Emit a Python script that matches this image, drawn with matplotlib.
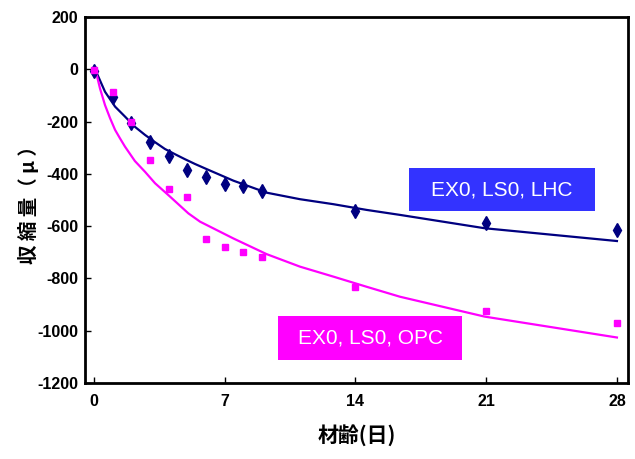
import matplotlib
matplotlib.use('Agg')
import matplotlib.pyplot as plt
from matplotlib.patches import Rectangle

plt.rcParams['axes.unicode_minus'] = False

# measured shrinkage at each age (days)
days = [0, 1, 2, 3, 4, 5, 6, 7, 8, 9, 14, 21, 28]
lhc_y = [-5, -105, -207, -279, -332, -385, -411, -439, -445, -466, -541, -587, -615]
opc_y = [-3, -88, -200, -346, -457, -490, -650, -681, -698, -719, -832, -923, -969]

# fitted curves
lhc_fit_x = [0.09, 0.59, 1.13, 1.66, 2.19, 2.73, 3.27, 3.80, 4.34, 4.87, 5.40, 5.94,
             7.46, 9.24, 11.03, 12.81, 14.60, 16.38, 20.91, 28.0]
lhc_fit_y = [-5, -86, -143, -181, -220, -251, -279, -305, -325, -344, -362, -379,
             -426, -472, -497, -516, -538, -557, -608, -657]
opc_fit_x = [0.09, 0.32, 0.59, 0.86, 1.13, 1.39, 1.66, 2.19, 2.73, 3.27, 4.07, 5.05,
             5.68, 7.46, 9.24, 11.03, 12.81, 14.60, 16.38, 20.91, 28.0]
opc_fit_y = [-5, -73, -137, -187, -232, -264, -296, -351, -392, -436, -487, -551,
             -583, -647, -707, -755, -793, -832, -870, -946, -1026]

xticks = [0, 7, 14, 21, 28]
yticks = list(range(-1200, 201, 200))

navy = '#000080'
pink = '#FF00FF'
sans = ['Liberation Sans', 'DejaVu Sans']
cjk = ['Noto Sans CJK JP', 'DejaVu Sans']

fig = plt.figure(figsize=(6.35, 4.59), dpi=100)
ax = fig.add_axes([0.1339, 0.1656, 0.855, 0.7974])

ax.plot(lhc_fit_x, lhc_fit_y, color=navy, lw=1.6)
ax.plot(opc_fit_x, opc_fit_y, color=pink, lw=1.6)
ax.plot(days, lhc_y, 'd', color=navy, ms=7, ls='none')
ax.plot(days, opc_y, 's', color=pink, ms=4.8, ls='none')

ax.set_xlim(-0.48, 28.59)
ax.set_ylim(-1200, 200)
ax.set_xticks(xticks)
ax.set_yticks(yticks)
for s in ax.spines.values():
    s.set_linewidth(2)
ax.tick_params(direction='in', length=4, width=1)
ax.tick_params(axis='x', pad=8)
ax.tick_params(axis='y', pad=5)
for lab in ax.get_xticklabels() + ax.get_yticklabels():
    lab.set_family(sans)
    lab.set_fontweight('bold')
    lab.set_fontsize(11.5)

ax.set_xlabel('材齢(日)', family=cjk, fontweight='bold', fontsize=15)
ax.set_ylabel('収 縮 量（ μ ）', family=cjk, fontweight='bold', fontsize=14)
ax.xaxis.set_label_coords(0.5, -0.112)
ax.yaxis.set_label_coords(-0.085, 0.499)

# label boxes
fig.patches.append(Rectangle((0.644, 0.540), 0.293, 0.0937, transform=fig.transFigure,
                             facecolor='#3333FF', edgecolor='none'))
fig.text(0.7906, 0.5871, 'EX0, LS0, LHC', color='white', fontsize=15,
         family=sans, ha='center', va='center')
fig.patches.append(Rectangle((0.438, 0.2157), 0.290, 0.0959, transform=fig.transFigure,
                             facecolor=pink, edgecolor='none'))
fig.text(0.5827, 0.2636, 'EX0, LS0, OPC', color='white', fontsize=15,
         family=sans, ha='center', va='center')

fig.savefig('out.png', dpi=100)
